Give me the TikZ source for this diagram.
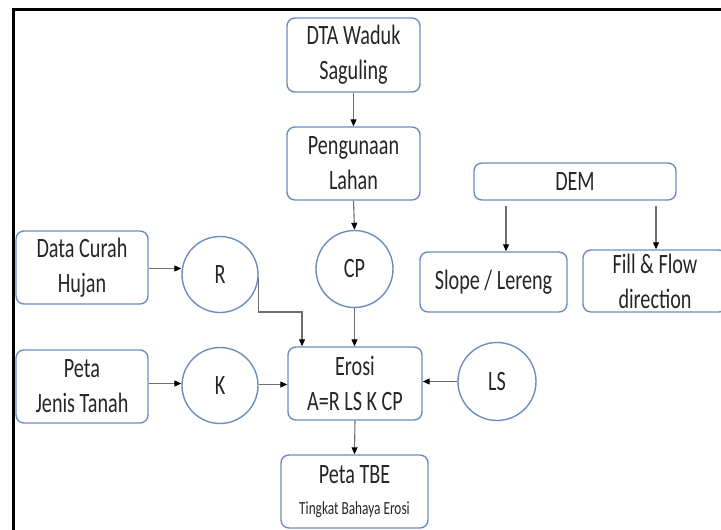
\documentclass[tikz,border=0pt]{standalone}
\usepackage{fontspec}
\setmainfont{Carlito}[FakeStretch=0.72]
\usetikzlibrary{arrows.meta}
\definecolor{boxblue}{RGB}{108,142,191}
\definecolor{linegray}{RGB}{110,110,110}
\begin{document}
\begin{tikzpicture}[x=1pt,y=-1pt,
  base/.style={draw=boxblue,line width=1.4pt,fill=white,inner sep=0pt,align=center,
    font=\fontsize{28}{35}\selectfont,text=black!85},
  box/.style={base,rounded corners=8pt,minimum width=#1},
  circ/.style={base,circle,minimum size=#1},
  arr/.style={draw=linegray,line width=1.1pt,-{Triangle[length=7pt,width=6pt,black]}}]
\clip (0,0) rectangle (721,530);
\fill[white] (0,0) rectangle (721,530);
\draw[line width=3pt,line cap=rect] (13,531) -- (13,9.5) -- (722,9.5);

\node[box=133pt,minimum height=74pt] (dta) at (353.5,55) {DTA Waduk\\Saguling};
\node[box=133pt,minimum height=73pt] (peng) at (353.5,163.5) {Pengunaan\\Lahan};
\node[box=202pt,minimum height=37pt] (dem) at (575,181.5) {DEM};
\node[box=147pt,minimum height=60pt] (slope) at (493.5,282) {Slope / Lereng};
\node[box=144pt,minimum height=62pt] (fill) at (655,281) {Fill \& Flow\\direction};
\node[box=132pt,minimum height=73pt] (data) at (82,267.5) {Data Curah\\Hujan};
\node[box=132pt,minimum height=73pt] (peta) at (82,386.5) {Peta\\Jenis Tanah};
\node[box=134pt,minimum height=73pt] (erosi) at (355,383.5) {Erosi\\A=R LS K CP};
\node[box=147pt,minimum height=73pt] (tbe) at (354.5,491.5) {Peta TBE\\[-4pt]{\fontsize{18.5}{22}\selectfont Tingkat Bahaya Erosi}};
\node[circ=76pt] (R) at (220,274.5) {R};
\node[circ=77pt] (CP) at (354.5,269) {CP};
\node[circ=76pt] (K) at (220,385.5) {K};
\node[circ=78pt] (LS) at (497,381.5) {LS};

\draw[arr] (dta.south) -- (peng.north);
\draw[arr] (peng.south) -- (CP.north);
\draw[arr] ([yshift=-1pt]data.east) coordinate (a1) -- (a1 -| R.west);
\draw[arr] ([yshift=3pt]peta.east) coordinate (a2) -- (a2 -| K.west);
\draw[arr] ([yshift=1pt]K.east) coordinate (a3) -- (a3 -| erosi.west);
\draw[arr] (LS.west) -- (LS.west -| erosi.east);
\draw[arr] (CP.south) -- (CP.south |- erosi.north);
\draw[arr] (erosi.south) -- (tbe.north);
\draw[arr] ([yshift=-3pt]R.east) coordinate (a4) -- ++(0,34.5) -| ([xshift=-53pt]erosi.north);
\draw[arr] ([xshift=-69pt,yshift=-5pt]dem.south) coordinate (d1) -- (d1 |- slope.north);
\draw[arr] ([xshift=81pt,yshift=-5pt]dem.south) coordinate (d2) -- (d2 |- fill.north);
\end{tikzpicture}
\end{document}
